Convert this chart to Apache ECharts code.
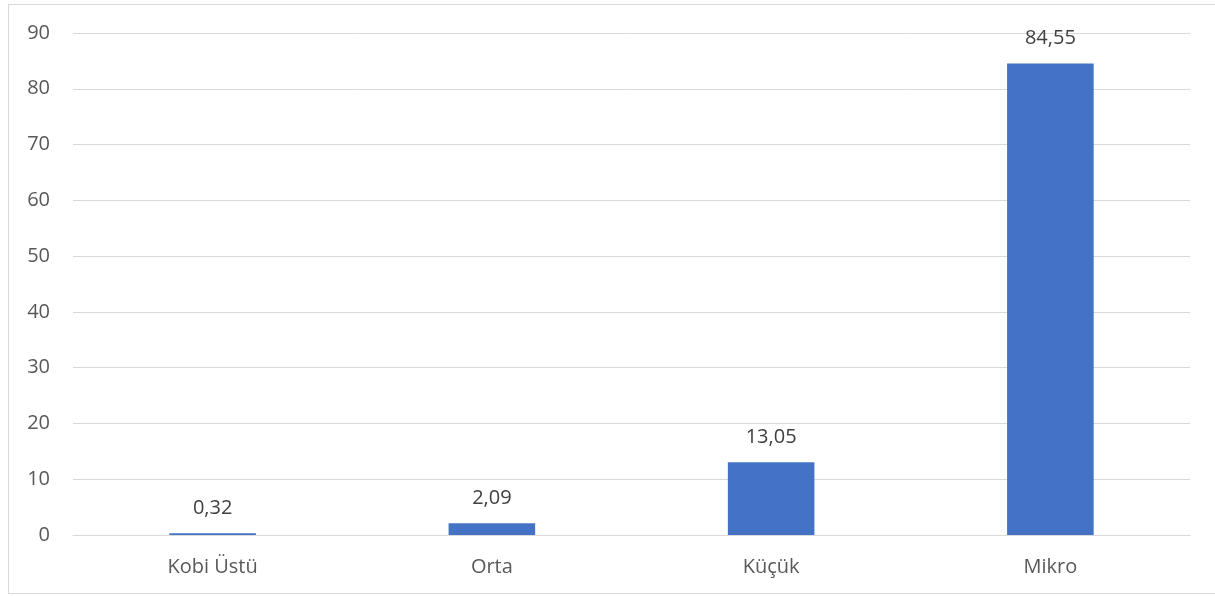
<!DOCTYPE html>
<html><head><meta charset="utf-8">
<script src="https://cdn.jsdelivr.net/npm/echarts@6/dist/echarts.min.js"></script>
<style>
html,body{margin:0;padding:0;background:#fff;}
#frame{position:absolute;left:8px;top:4px;width:1215px;height:590px;border:1px solid #d9d9d9;box-sizing:border-box;}
#chart{position:absolute;left:0;top:0;width:1215px;height:596px;}
</style></head>
<body>
<div id="frame"></div>
<div id="chart"></div>
<script>
const categories = ["Kobi Üstü", "Orta", "Küçük", "Mikro"];
const values = [0.32, 2.09, 13.05, 84.55];
const yTicks = {min: 0, max: 90, interval: 10};

const chart = echarts.init(document.getElementById('chart'));
const font = "'Open Sans', 'Noto Sans', sans-serif";
chart.setOption({
  animation: false,
  grid: {left: 73, right: 25, top: 33, bottom: 61, containLabel: false},
  xAxis: {
    type: 'category', data: categories,
    axisLine: {show: true, lineStyle: {color: '#d9d9d9', width: 1}},
    axisTick: {show: false},
    axisLabel: {color: '#595959', fontSize: 20, fontFamily: font, margin: 22}
  },
  yAxis: {
    type: 'value', min: yTicks.min, max: yTicks.max, interval: yTicks.interval,
    axisLine: {show: false}, axisTick: {show: false},
    splitLine: {lineStyle: {color: '#d9d9d9', width: 1}},
    axisLabel: {color: '#595959', fontSize: 20, fontFamily: font, margin: 23}
  },
  series: [{
    type: 'bar', data: values, barWidth: '31%',
    itemStyle: {color: '#4472C4'},
    label: {show: true, position: 'top', distance: 15, color: '#404040', fontSize: 20, fontFamily: font,
      formatter: p => p.value.toFixed(2).replace('.', ',')}
  }]
});
</script>
</body></html>
